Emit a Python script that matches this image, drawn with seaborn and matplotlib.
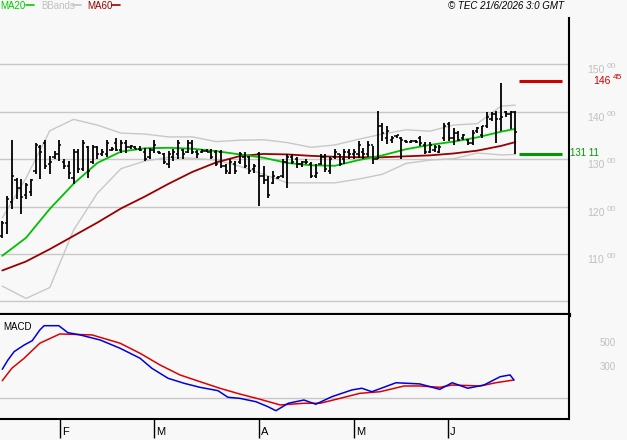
import numpy as np
import pandas as pd
import matplotlib
matplotlib.use("Agg")
import matplotlib.pyplot as plt
import matplotlib.transforms as mtransforms
from matplotlib.lines import Line2D
import seaborn as sns

# daily bars (one per trading day)
highs = [116.9, 122.2, 134.0, 126.0, 125.8, 125.0, 125.8, 133.4, 133.0, 134.0,
         130.7, 131.7, 134.0, 130.0, 129.6, 132.1, 132.1, 134.0, 132.8, 133.0,
         132.8, 132.1, 134.0, 132.6, 134.5, 134.0, 134.0, 133.0, 132.8, 132.8,
         132.3, 132.3, 134.0, 131.7, 131.3, 131.7, 132.1, 134.0, 132.1, 134.0,
         134.0, 131.9, 132.1, 132.1, 132.1, 131.9, 131.9, 129.0, 130.0, 129.6,
         131.5, 131.5, 130.7, 129.0, 131.5, 128.5, 126.4, 127.5, 126.4, 130.0,
         131.1, 131.1, 130.4, 129.6, 130.0, 129.4, 129.0, 131.1, 131.1, 130.4,
         132.1, 131.1, 132.1, 132.1, 132.1, 133.8, 132.3, 133.8, 132.8, 140.1,
         137.6, 137.0, 134.9, 135.1, 134.7, 134.0, 134.0, 134.0, 134.9, 133.6,
         133.6, 133.0, 133.0, 137.6, 137.8, 136.6, 135.9, 135.3, 134.2, 136.1,
         136.8, 137.0, 139.9, 139.9, 140.1, 146.1, 140.1, 140.1, 140.1]
lows = [113.4, 114.2, 119.5, 121.6, 118.4, 121.6, 122.2, 126.9, 125.8, 127.9,
        126.9, 130.0, 129.6, 127.9, 125.8, 124.8, 127.1, 127.5, 126.0, 129.0,
        130.0, 130.7, 130.4, 131.7, 131.7, 131.3, 131.3, 132.1, 132.1, 131.7,
        129.6, 130.0, 131.3, 131.1, 129.0, 128.1, 129.6, 130.0, 130.0, 131.3,
        131.1, 130.2, 131.3, 131.5, 130.0, 128.5, 128.1, 126.9, 126.9, 126.9,
        129.0, 128.1, 126.9, 127.1, 120.1, 124.8, 121.8, 124.8, 125.8, 126.0,
        123.9, 129.0, 128.1, 128.3, 129.0, 126.0, 126.0, 128.8, 127.3, 126.9,
        130.0, 128.5, 129.0, 130.0, 130.0, 130.2, 130.0, 130.4, 129.0, 130.0,
        133.8, 133.2, 133.4, 134.5, 130.0, 133.4, 133.4, 133.4, 132.8, 131.1,
        131.3, 131.5, 131.3, 133.8, 133.8, 133.0, 133.8, 134.0, 133.0, 133.0,
        135.5, 134.5, 136.6, 138.0, 133.4, 136.0, 138.9, 136.4, 131.1]
opens = [113.8, 116.5, 121.0, 125.5, 124.0, 122.5, 123.0, 127.5, 132.5, 133.5,
         129.0, 130.5, 131.0, 129.5, 128.5, 126.0, 131.5, 128.0, 132.5, 129.5,
         132.5, 131.0, 131.0, 132.0, 133.5, 132.0, 133.5, 132.5, 132.5, 132.2,
         131.5, 130.5, 132.0, 131.5, 131.0, 129.0, 130.5, 131.0, 132.0, 131.5,
         133.5, 131.5, 131.5, 131.8, 131.6, 131.5, 131.5, 128.5, 127.0, 129.0,
         129.5, 130.5, 130.5, 128.0, 131.0, 126.5, 125.5, 125.0, 126.0, 126.5,
         129.5, 130.5, 130.0, 129.0, 129.5, 129.0, 126.5, 129.0, 130.5, 127.5,
         130.5, 131.0, 130.0, 131.5, 131.0, 131.0, 131.5, 131.0, 133.0, 130.0,
         137.0, 134.5, 134.0, 134.8, 134.5, 133.8, 133.6, 133.8, 134.5, 133.0,
         131.5, 132.0, 131.5, 134.5, 137.5, 134.5, 135.5, 134.5, 134.0, 133.5,
         136.0, 135.0, 137.0, 138.5, 139.5, 138.5, 140.0, 139.5, 140.0]
closes = [116.5, 121.5, 126.5, 124.0, 122.0, 124.5, 125.5, 133.0, 131.5, 128.5,
          129.5, 131.0, 133.0, 128.5, 127.0, 131.5, 128.0, 133.5, 127.5, 132.5,
          131.0, 131.5, 133.5, 132.2, 132.0, 133.5, 132.5, 132.8, 132.2, 132.0,
          130.0, 132.0, 133.0, 131.2, 129.5, 131.0, 131.5, 133.5, 131.0, 133.5,
          131.5, 131.0, 131.8, 131.6, 130.5, 129.0, 128.5, 127.5, 129.5, 127.5,
          131.0, 128.5, 127.5, 128.5, 126.5, 125.5, 122.5, 126.5, 126.2, 129.5,
          130.5, 129.5, 129.0, 129.5, 129.3, 126.5, 127.0, 130.5, 128.0, 130.0,
          131.5, 129.0, 131.5, 131.0, 131.5, 133.0, 131.0, 133.0, 130.0, 137.0,
          135.5, 136.0, 134.5, 135.0, 134.0, 133.6, 133.8, 133.6, 133.5, 131.5,
          133.0, 132.5, 132.5, 137.0, 134.5, 135.5, 134.0, 135.0, 133.5, 135.5,
          136.5, 137.0, 139.0, 139.5, 138.5, 139.0, 139.5, 140.0, 135.8]

# overlays, read every 5 bars
ma_idx = [0, 5, 10, 15, 20, 25, 30, 35, 40, 45, 50, 55, 60, 65, 70, 75, 80, 85, 90, 95, 100, 105, 108]
ma20 = [109.6, 113.4, 119.5, 124.8, 129.2, 131.6, 132.3, 132.4, 132.2, 131.7, 131.0, 130.3,
        129.2, 128.7, 128.6, 129.8, 130.8, 132.1, 133.0, 133.7, 134.6, 135.8, 136.4]
ma60 = [106.5, 108.4, 111.0, 113.8, 116.6, 119.6, 122.1, 124.8, 127.3, 129.3, 130.65, 131.1,
        131.0, 130.7, 130.5, 130.4, 130.4, 130.6, 130.8, 131.2, 131.8, 132.8, 133.6]
bb_up = [117.6, 126.0, 136.0, 138.4, 137.2, 135.5, 135.3, 134.7, 134.7, 133.7, 134.0, 134.1,
         133.5, 132.5, 133.0, 134.2, 135.3, 136.2, 135.9, 137.2, 137.5, 141.2, 141.4]
bb_low = [103.2, 100.6, 102.9, 115.0, 122.8, 128.0, 129.6, 130.4, 130.2, 129.8, 128.5, 126.8,
          125.0, 125.0, 125.0, 125.8, 126.8, 129.1, 129.8, 130.1, 131.3, 130.9, 131.0]

# MACD panel
macd_idx = [0, 1.2, 2.5, 4.6, 6.3, 7.9, 8.8, 11.9, 13.8, 16.4, 20.6, 24.8, 29, 31.5, 34.9,
            38.3, 41.6, 45.4, 47.5, 50, 53.4, 55.9, 57.6, 60.2, 63.5, 66, 69.4, 73.6, 75.7,
            77.8, 82.9, 87.9, 92.1, 94.7, 98, 101.4, 104.8, 106.9, 107.7]
macd = [239, 317, 386, 441, 477, 566, 602, 602, 544, 525, 483, 414, 331, 247, 164,
        122, 89, 61, 6, -3, -31, -72, -106, -44, -17, -52, 11, 67, 81,
        52, 127, 117, 72, 127, 81, 108, 177, 192, 150]
sig_idx = [0, 2, 4.6, 7.9, 12.1, 18.9, 24.8, 29, 33.2, 37.4, 41.6, 45.8, 50, 54.3, 58.5,
           63.5, 66.9, 71.1, 75.3, 79.5, 84.6, 87.9, 92.1, 94.7, 100.6, 103.9, 107.7]
signal = [144, 247, 331, 456, 533, 525, 456, 372, 275, 192, 136, 81, 33, -11, -58,
          -44, -44, -3, 39, 52, 100, 100, 89, 108, 100, 127, 150]

levels = [146.45, 131.11]
level_colors = ["#cc0000", "#009900"]
price_ticks = [110, 120, 130, 140, 150]
grid_vals = [100, 110, 120, 130, 140, 150]
macd_ticks = [300, 500]
months = ["F", "M", "A", "M", "J"]
month_pos = [12.2, 31.9, 54.0, 74.0, 93.8]

bg = "#f8f8f8"
sns.set_style("white", rc={"axes.facecolor": bg, "figure.facecolor": bg})
plt.rcParams["font.family"] = ["Liberation Sans", "DejaVu Sans"]

fig = plt.figure(figsize=(6.27, 4.40), dpi=100)
ax = fig.add_axes([0, 125 / 440, 569 / 627, 297 / 440])
ax2 = fig.add_axes([0, 21 / 440, 569 / 627, 104 / 440])

xl = (-0.48, 119.3)

# ---- price panel ----
for g in grid_vals:
    ax.axhline(g, color="#c8c8c8", lw=1, zorder=0)

sns.lineplot(x=ma_idx, y=bb_up, ax=ax, color="#c8c8c8", lw=1, estimator=None)
sns.lineplot(x=ma_idx, y=bb_low, ax=ax, color="#c8c8c8", lw=1, estimator=None)
sns.lineplot(x=ma_idx, y=ma60, ax=ax, color="#990000", lw=1.3, estimator=None)
sns.lineplot(x=ma_idx, y=ma20, ax=ax, color="#00c000", lw=1.3, estimator=None)

idx = np.arange(len(highs))
ax.vlines(idx, lows, highs, color="black", lw=1.3, zorder=3)
ax.hlines(opens, idx - 0.45, idx, color="black", lw=1.1, zorder=3)
ax.hlines(closes, idx, idx + 0.45, color="black", lw=1.1, zorder=3)

for lv, c in zip(levels, level_colors):
    ax.hlines(lv, 108.8, 117.8, color=c, lw=2.2, zorder=4)

ax.set_xlim(*xl)
ax.set_ylim(97.1, 159.8)
ax.set_xticks([])
ax.set_yticks([])
ax.set_xlabel("")
ax.set_ylabel("")
for s in ["left", "top"]:
    ax.spines[s].set_visible(False)
ax.spines["right"].set_color("black")
ax.spines["right"].set_linewidth(1.5)
ax.spines["bottom"].set_color("black")
ax.spines["bottom"].set_linewidth(3)

down = mtransforms.ScaledTranslation(0, -0.06, fig.dpi_scale_trans)
up_sup = mtransforms.ScaledTranslation(0, 0.035, fig.dpi_scale_trans)
tr = mtransforms.blended_transform_factory(ax.transAxes, ax.transData)
for t in price_ticks:
    ax.text(587 / 569, t, str(t), transform=tr + down, color="#c0c0c0",
            fontsize=7.5, ha="left", va="center", clip_on=False)
    ax.text(607 / 569, t, "00", transform=tr + down + up_sup,
            color="#c0c0c0", fontsize=6, ha="left", va="center", clip_on=False)

# level labels
r_int, r_dec = f"{levels[0]:.2f}".split(".")
ax.text(593 / 569, levels[0], r_int, transform=tr, color=level_colors[0], fontsize=7.5,
        ha="left", va="center", clip_on=False)
ax.text(613 / 569, levels[0], r_dec, transform=tr + up_sup,
        color=level_colors[0], fontsize=6, ha="left", va="center", clip_on=False)
g_int, g_dec = f"{levels[1]:.2f}".split(".")
ax.text(570 / 569, levels[1], g_int + " " + g_dec,
        transform=tr + mtransforms.ScaledTranslation(0, 0.01, fig.dpi_scale_trans),
        color=level_colors[1], fontsize=7, ha="left", va="center", clip_on=False)

# ---- MACD panel ----
ax2.axhline(0, color="#c8c8c8", lw=1, zorder=0)
sns.lineplot(x=sig_idx, y=signal, ax=ax2, color="#dd0000", lw=1.1, estimator=None)
sns.lineplot(x=macd_idx, y=macd, ax=ax2, color="#0000dd", lw=1.1, estimator=None)
ax2.set_xlim(*xl)
ax2.set_ylim(-175, 691)
ax2.set_yticks([])
ax2.set_xlabel("")
ax2.set_ylabel("")
ax2.set_xticks(month_pos)
ax2.set_xticklabels([])
ax2.tick_params(axis="x", direction="out", length=14, width=1, color="black", bottom=True)
ax2.spines["left"].set_visible(False)
ax2.spines["top"].set_visible(False)
for s in ["right", "bottom"]:
    ax2.spines[s].set_color("black")
    ax2.spines[s].set_linewidth(1.5)

tr2 = mtransforms.blended_transform_factory(ax2.transAxes, ax2.transData)
for t in macd_ticks:
    ax2.text(600 / 569, t, str(t), transform=tr2 + mtransforms.ScaledTranslation(0, -0.05, fig.dpi_scale_trans),
             color="#c0c0c0", fontsize=7, ha="left", va="center", clip_on=False)

trm = mtransforms.blended_transform_factory(ax2.transData, ax2.transAxes)
right2 = mtransforms.ScaledTranslation(0.02, 0, fig.dpi_scale_trans)
for m, p in zip(months, month_pos):
    ax2.text(p, -0.125, m, transform=trm + right2, fontsize=8, ha="left", va="center",
             color="black", clip_on=False)

ax2.text(3 / 569, 0.88, "MACD", transform=ax2.transAxes, fontsize=7, ha="left",
         va="center", color="black")

# ---- header ----
yh = 1 - 6 / 440
fig.text(0, yh, "MA20", color="#00cc00", fontsize=7, ha="left", va="center")
fig.add_artist(Line2D([26 / 627, 34 / 627], [1 - 5 / 440] * 2, color="#00cc00", lw=1.2))
fig.text(41 / 627, yh, "BBands", color="#c0c0c0", fontsize=7, ha="left", va="center")
fig.add_artist(Line2D([73 / 627, 81 / 627], [1 - 5 / 440] * 2, color="#c0c0c0", lw=1.2))
fig.text(87 / 627, yh, "MA60", color="#990000", fontsize=7, ha="left", va="center")
fig.add_artist(Line2D([112 / 627, 120 / 627], [1 - 5 / 440] * 2, color="#990000", lw=1.2))
fig.text(448 / 627, yh, "© TEC 21/6/2026 3:0 GMT", color="black", fontsize=7,
         style="italic", ha="left", va="center")

fig.savefig("out.png", dpi=100, facecolor=bg)
